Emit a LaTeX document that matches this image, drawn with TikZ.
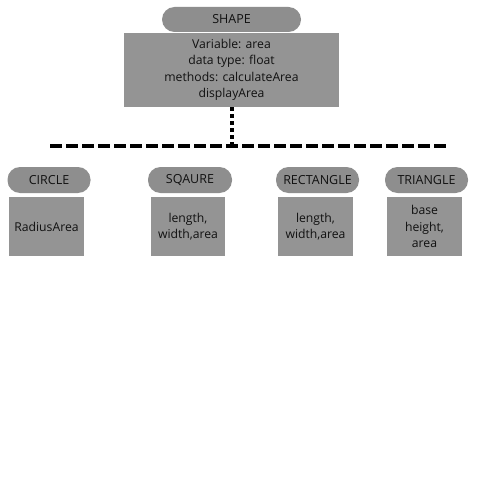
\documentclass[tikz,border=0pt]{standalone}
\usepackage{fontspec}
\setmainfont{Open Sans}
\begin{document}
\definecolor{pillgray}{HTML}{8E8E8E}
\definecolor{boxgray}{HTML}{949494}
\definecolor{ink}{HTML}{111111}
\begin{tikzpicture}[x=1pt,y=-1pt,
  pill/.style={fill=pillgray,draw=none,rounded corners=12.5pt,minimum height=26pt,
    inner sep=0pt,text=ink,font=\fontsize{12.5}{14}\selectfont},
  infobox/.style={fill=boxgray,draw=none,inner sep=0pt,text=ink,align=center,
    font=\fontsize{12.2}{16.5}\selectfont},
  bus/.style={line width=4pt,dash pattern=on 11.5pt off 4.5pt},
  drop/.style={line width=4pt,dash pattern=on 4pt off 3pt}]
\useasboundingbox (0,0) rectangle (500,500);
\fill[white] (0,0) rectangle (500,500);

% base class
\node[pill,minimum width=139pt,minimum height=25pt] (shape) at (231.5,19.5) {SHAPE};
\node[infobox,minimum width=215pt,minimum height=74pt] (shapebody) at (231.5,70)
  {Variable: area\\data type: float\\methods: calculateArea\\displayArea};

% inheritance bus
\coordinate (busL) at (50,146);
\coordinate (busR) at (446,146);
\coordinate (busM) at (232,146);
\draw[drop] (shapebody.south -| busM) -- (busM);
\draw[bus] (busL) -- (busR);

% derived classes
\node[pill,minimum width=83pt] (circle) at (49,180) {CIRCLE};
\node[pill,minimum width=84pt] (square) at (190,180) {SQAURE};
\node[pill,minimum width=83pt] (rect) at (317.5,180) {RECTANGLE};
\node[pill,minimum width=83pt] (tri) at (426.5,180) {TRIANGLE};

\node[infobox,minimum width=75pt,minimum height=59pt] (circlebody) at (46.5,226.5) {RadiusArea};
\node[infobox,minimum width=74pt,minimum height=59pt] (squarebody) at (188,226.5) {length,\\width,area};
\node[infobox,minimum width=75pt,minimum height=59pt] (rectbody) at (315.5,226.5) {length,\\width,area};
\node[infobox,minimum width=75pt,minimum height=59pt] (tribody) at (424.5,226.5) {base\\height,\\area};
\end{tikzpicture}
\end{document}
